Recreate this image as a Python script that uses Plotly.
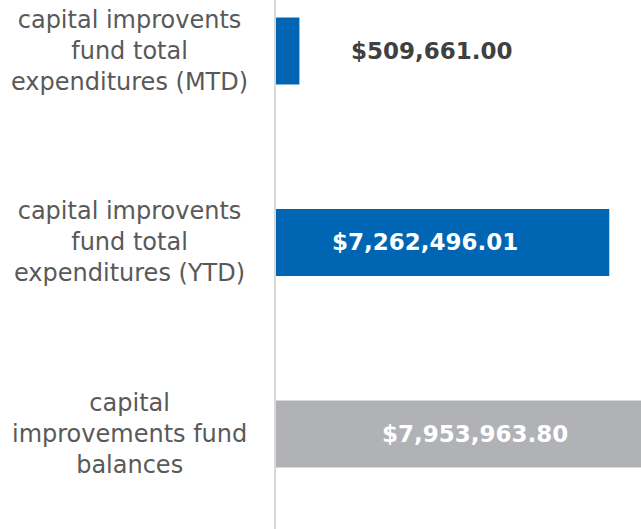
import plotly.graph_objects as go

categories = [
    "capital improvents<br>fund total<br>expenditures (MTD)",
    "capital improvents<br>fund total<br>expenditures (YTD)",
    "capital<br>improvements fund<br>balances",
]
values = [509661.00, 7262496.01, 7953963.80]
value_labels = ["$509,661.00", "$7,262,496.01", "$7,953,963.80"]
bar_colors = ["#0066B3", "#0066B3", "#B1B2B6"]
label_colors = ["#404040", "#FFFFFF", "#FFFFFF"]

W, H = 641, 529
plot_left = 276
plot_w = W - plot_left

ypos = list(range(len(categories)))

fig = go.Figure()
fig.add_trace(go.Bar(
    x=values, y=ypos, orientation="h",
    marker=dict(color=bar_colors, line=dict(width=0)),
    width=0.35, hoverinfo="skip",
))

label_px = [156, 149, 199]
font_fam = "'DejaVu Sans', sans-serif"
ann = []
for i, (cat, lab) in enumerate(zip(categories, value_labels)):
    ann.append(dict(
        x=-(plot_left - 129) / plot_w, xref="paper", y=i, yref="y",
        text=cat, showarrow=False, xanchor="center", yanchor="middle",
        align="center", font=dict(family=font_fam, size=24, color="#595959"),
    ))
    ann.append(dict(
        x=label_px[i] / plot_w, xref="paper", y=i, yref="y",
        text="<b>" + lab + "</b>", showarrow=False, xanchor="center",
        yanchor="middle", font=dict(family=font_fam, size=23, color=label_colors[i]),
    ))

fig.update_layout(
    width=W, height=H,
    margin=dict(l=plot_left, r=0, t=0, b=0),
    paper_bgcolor="white", plot_bgcolor="white",
    showlegend=False,
    xaxis=dict(range=[0, 7953963.8], visible=False, fixedrange=True),
    yaxis=dict(range=[2.496, -0.266], showticklabels=False, showgrid=False,
               zeroline=False, showline=True, linecolor="#D9D9D9", linewidth=2,
               ticks="", fixedrange=True),
    annotations=ann,
)
fig.write_html(
    "out.html",
    config={"responsive": False, "displayModeBar": False},
    post_script="document.body.style.margin='0';document.body.style.overflow='hidden';",
)
